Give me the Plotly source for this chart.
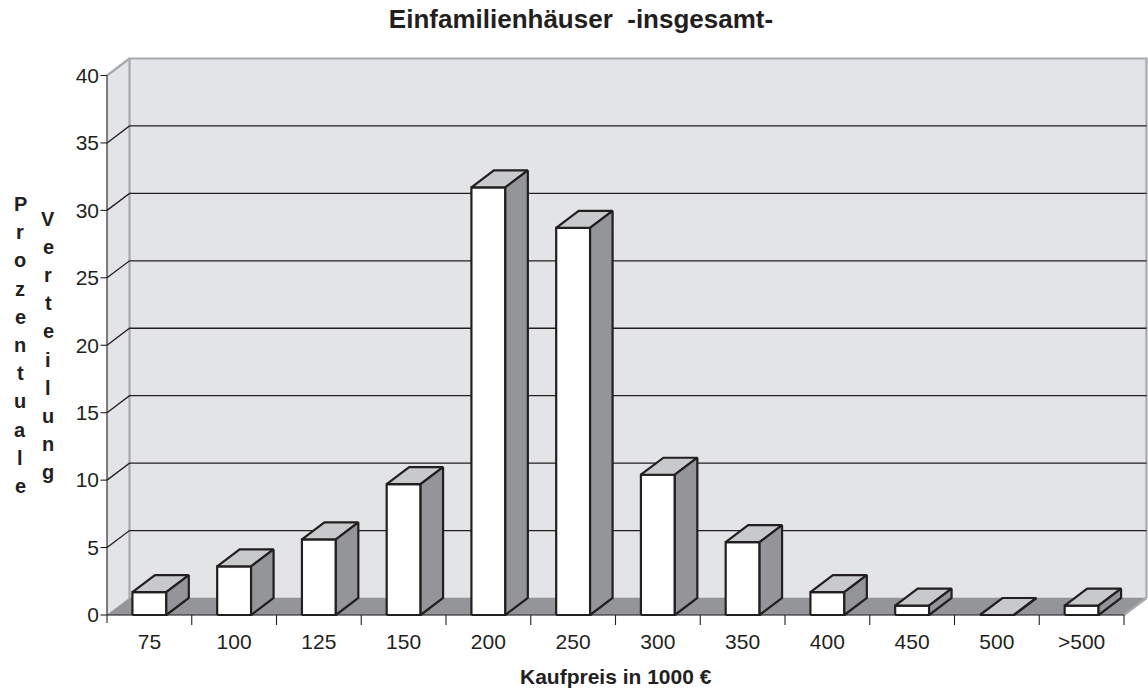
import plotly.graph_objects as go

# ---------------- data ----------------
categories = ["75", "100", "125", "150", "200", "250", "300", "350", "400", "450", "500", ">500"]
values = [1.7, 3.6, 5.6, 9.7, 31.7, 28.7, 10.4, 5.4, 1.7, 0.7, 0.0, 0.7]
y_ticks = [0, 5, 10, 15, 20, 25, 30, 35, 40]
title_text = "Einfamilienhäuser  -insgesamt-"
x_title = "Kaufpreis in 1000 €"
y_title_1 = "Prozentuale"
y_title_2 = "Verteilung"

# ---------------- geometry / style ----------------
W, H = 1148, 692
ML, MR, MT, MB = 100, 0, 50, 65
PX_X = 84.75      # px per category
PX_Y = 13.4875    # px per percent
N = len(categories)
YMAX = 40
DX = 22.5 / PX_X  # 3D depth offset (x units)
DY = 17.0 / PX_Y  # 3D depth offset (y units)
BW = 0.2          # half bar width

plot_w = W - ML - MR
plot_h = H - MT - MB
x0 = -(107 - ML) / PX_X
x_range = [x0, x0 + plot_w / PX_X]
y0 = -(MT + plot_h - 615) / PX_Y
y_range = [y0, y0 + plot_h / PX_Y]

INK = "#231f20"
WALL = "#e3e4e6"
WALL_EDGE = "#a7a9ac"
FLOOR = "#939598"
TOP = "#c8c9cb"
SIDE = "#939598"
FONT = "Liberation Sans, Arial, sans-serif"


def add_poly(xs, ys, px, py):
    xs.extend(px + [px[0], None])
    ys.extend(py + [py[0], None])


fig = go.Figure()

def fill_trace(xs, ys, fc, lc, lw):
    fig.add_trace(go.Scatter(x=xs, y=ys, mode="lines", fill="toself", fillcolor=fc,
                             line=dict(color=lc, width=lw), hoverinfo="skip",
                             showlegend=False))

def line_trace(xs, ys, lc, lw):
    fig.add_trace(go.Scatter(x=xs, y=ys, mode="lines", line=dict(color=lc, width=lw),
                             hoverinfo="skip", showlegend=False))

# back wall
bx, by = [], []
add_poly(bx, by, [DX, N + DX, N + DX, DX], [DY, DY, YMAX + DY, YMAX + DY])
fill_trace(bx, by, WALL, WALL, 0.5)
# left side wall
sx, sy = [], []
add_poly(sx, sy, [0, DX, DX, 0], [0, DY, YMAX + DY, YMAX])
fill_trace(sx, sy, WALL, WALL, 0.5)
# floor
fx, fy = [], []
add_poly(fx, fy, [0, N, N + DX, DX], [0, 0, DY, DY])
fill_trace(fx, fy, FLOOR, FLOOR, 0.5)

# wall edges
ex = [DX, DX, N + DX, N + DX, None, 0, DX, None, N, N + DX]
ey = [DY, YMAX + DY, YMAX + DY, DY, None, YMAX, YMAX + DY, None, 0, DY]
line_trace(ex, ey, WALL_EDGE, 2.2)

# gridlines
gx, gy = [], []
for v in y_ticks:
    if v == 0 or v == YMAX:
        continue
    gx += [0, DX, N + DX, None]
    gy += [v, v + DY, v + DY, None]
line_trace(gx, gy, INK, 1.3)

# axes lines and tick marks
tk = 6.5 / PX_X
ax, ay = [0, 0, None, 0, N, None], [-8 / PX_Y, YMAX, None, 0, 0, None]
for v in y_ticks:
    ax += [-tk, 0, None]
    ay += [v, v, None]
for i in range(1, N + 1):
    ax += [i, i, None]
    ay += [0, -10 / PX_Y, None]
line_trace(ax, ay, INK, 1.1)

# bars
frx, fry, tpx, tpy, sdx, sdy = [], [], [], [], [], []
for i, v in enumerate(values):
    c = i + 0.5
    l, r = c - BW, c + BW
    add_poly(frx, fry, [l, r, r, l], [0, 0, v, v])
    add_poly(tpx, tpy, [l, r, r + DX, l + DX], [v, v, v + DY, v + DY])
    add_poly(sdx, sdy, [r, r + DX, r + DX, r], [0, DY, v + DY, v])
fill_trace(frx, fry, "#ffffff", INK, 2.2)
fill_trace(tpx, tpy, TOP, INK, 2.2)
fill_trace(sdx, sdy, SIDE, INK, 2.2)

# ---------------- annotations ----------------
def px_to_paper_x(px):
    return (px - ML) / plot_w

def px_to_paper_y(py):
    return (MT + plot_h - py) / plot_h

annotations = [
    dict(text=f"<b>{x_title}</b>", x=N / 2, xref="x", y=px_to_paper_y(676), yref="paper",
         showarrow=False, xanchor="center", yanchor="middle",
         font=dict(family=FONT, size=21, color=INK)),
]
for i, ch in enumerate(y_title_1):
    annotations.append(dict(text=f"<b>{ch}</b>", x=px_to_paper_x(20), xref="paper",
                            y=px_to_paper_y(204 + 28.2 * i), yref="paper",
                            showarrow=False, xanchor="center", yanchor="middle",
                            font=dict(family=FONT, size=20, color=INK)))
for i, ch in enumerate(y_title_2):
    annotations.append(dict(text=f"<b>{ch}</b>", x=px_to_paper_x(48), xref="paper",
                            y=px_to_paper_y(219 + 28.1 * i), yref="paper",
                            showarrow=False, xanchor="center", yanchor="middle",
                            font=dict(family=FONT, size=20, color=INK)))

fig.update_layout(
    width=W, height=H, autosize=False,
    margin=dict(l=ML, r=MR, t=MT, b=MB, pad=0),
    paper_bgcolor="white", plot_bgcolor="white",
    title=dict(text=f"<b>{title_text}</b>", x=581 / W, xanchor="center",
               y=1 - 19 / H, yanchor="middle", xref="container", yref="container",
               font=dict(family=FONT, size=26, color=INK)),
    xaxis=dict(range=x_range, showgrid=False, zeroline=False, showline=False,
               tickmode="array", tickvals=[i + 0.5 for i in range(N)], ticktext=categories,
               ticks="", tickfont=dict(family=FONT, size=21, color=INK),
               fixedrange=True),
    yaxis=dict(range=y_range, showgrid=False, zeroline=False, showline=False,
               tickmode="array", tickvals=y_ticks, ticktext=[str(v) for v in y_ticks],
               ticks="", tickfont=dict(family=FONT, size=21, color=INK),
               fixedrange=True),
    annotations=annotations,
)

fig.write_html("out.html", config={"displayModeBar": False},
               post_script="document.body.style.margin='0';")
